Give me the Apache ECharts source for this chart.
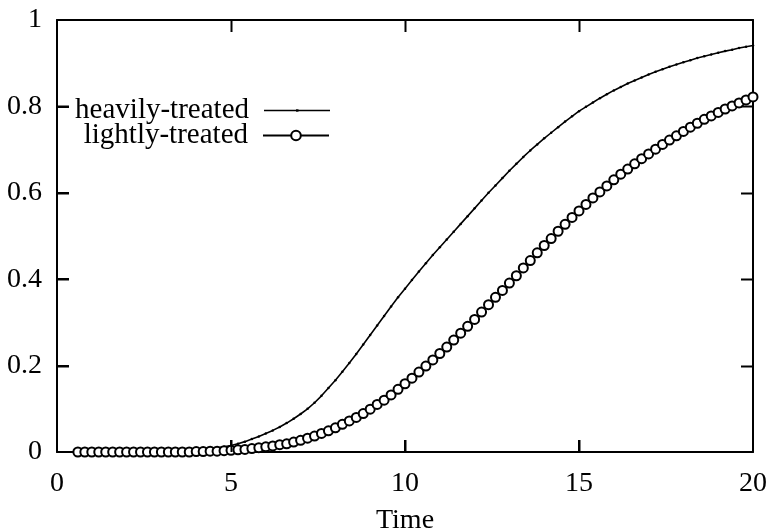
<!DOCTYPE html>
<html>
<head>
<meta charset="utf-8">
<style>html,body{margin:0;padding:0;background:#fff;}#chart{width:767px;height:532px;}</style>
<script src="https://cdn.jsdelivr.net/npm/echarts@6/dist/echarts.min.js"></script>
</head>
<body>
<div id="chart"></div>
<script>
var timeValues = [0.6,0.8,1.0,1.2,1.4,1.6,1.8,2.0,2.2,2.4,2.6,2.8,3.0,3.2,3.4,3.6,3.8,4.0,4.2,4.4,4.6,4.8,5.0,5.2,5.4,5.6,5.8,6.0,6.2,6.4,6.6,6.8,7.0,7.2,7.4,7.6,7.8,8.0,8.2,8.4,8.6,8.8,9.0,9.2,9.4,9.6,9.8,10.0,10.2,10.4,10.6,10.8,11.0,11.2,11.4,11.6,11.8,12.0,12.2,12.4,12.6,12.8,13.0,13.2,13.4,13.6,13.8,14.0,14.2,14.4,14.6,14.8,15.0,15.2,15.4,15.6,15.8,16.0,16.2,16.4,16.6,16.8,17.0,17.2,17.4,17.6,17.8,18.0,18.2,18.4,18.6,18.8,19.0,19.2,19.4,19.6,19.8,20.0];

var heavilyTreated = [0,0,0,0,0,0,0,0,0,0,0,0,
  0.001,0.001,0.002,0.002,0.003,0.004,0.005,0.007,0.009,0.012,0.015,0.019,0.024,0.030,0.036,0.043,0.050,0.058,0.067,0.077,
  0.088,0.100,0.114,0.130,0.148,0.166,0.186,0.206,0.227,0.249,0.271,0.293,0.315,0.337,0.358,0.378,0.398,0.418,0.437,0.456,
  0.474,0.492,0.510,0.528,0.546,0.564,0.582,0.600,0.617,0.634,0.651,0.667,0.683,0.698,0.712,0.726,0.739,0.752,0.765,0.777,
  0.789,0.799,0.809,0.819,0.828,0.837,0.845,0.853,0.860,0.867,0.874,0.880,0.886,0.892,0.897,0.902,0.907,0.912,0.916,0.920,
  0.924,0.928,0.931,0.935,0.938,0.941];

var lightlyTreated = [0,0,0,0,0,0,0,0,0,0,0,0,0,0,0,0,0,
  0.001,0.001,0.002,0.002,0.003,0.004,0.005,0.006,0.008,0.010,0.012,0.014,0.017,0.019,0.023,
  0.027,0.032,0.037,0.043,0.049,0.056,0.064,0.072,0.080,0.089,0.099,0.110,0.120,0.132,0.145,0.158,0.171,0.185,0.199,0.213,
  0.228,0.243,0.259,0.275,0.291,0.307,0.324,0.341,0.358,0.374,0.391,0.408,0.426,0.443,0.461,0.478,0.494,0.511,0.527,0.543,
  0.558,0.573,0.588,0.602,0.616,0.630,0.643,0.655,0.667,0.679,0.690,0.701,0.712,0.722,0.732,0.742,0.752,0.761,0.770,0.778,
  0.786,0.794,0.801,0.808,0.815,0.822];

var xTicks = [0, 5, 10, 15, 20];
var yTicks = [0, 0.2, 0.4, 0.6, 0.8, 1];
var seriesNames = ['heavily-treated', 'lightly-treated'];
var xAxisName = 'Time';

function pairs(ys) { return timeValues.map(function (t, i) { return [t, ys[i]]; }); }

var FONT = 'Liberation Serif';
var TICK_PX = 12;
var xMin = xTicks[0], xMax = xTicks[xTicks.length - 1];
var yMin = yTicks[0], yMax = yTicks[yTicks.length - 1];

// tick positions: [x, y, kind] kind 0 = x-axis tick, 1 = y-axis tick
var tickData = [];
xTicks.slice(1, -1).forEach(function (x) { tickData.push([x, yMin, 0]); });
yTicks.slice(1, -1).forEach(function (y) { tickData.push([xMin, y, 1]); });

function renderTick(params, api) {
  var kind = api.value(2);
  var v0 = api.value(0), v1 = api.value(1);
  var style = { stroke: '#000', lineWidth: 2, fill: null };
  if (kind === 0) {
    var b = api.coord([v0, yMin]), t = api.coord([v0, yMax]);
    var xb = Math.round(b[0]) + 0.5;
    return { type: 'group', children: [
      { type: 'line', shape: { x1: xb, y1: b[1], x2: xb, y2: b[1] - TICK_PX }, style: style, z2: 100 },
      { type: 'line', shape: { x1: xb, y1: t[1], x2: xb, y2: t[1] + TICK_PX }, style: style, z2: 100 }
    ]};
  }
  var l = api.coord([xMin, v1]), r = api.coord([xMax, v1]);
  var yl = Math.round(l[1]) + 0.5;
  return { type: 'group', children: [
    { type: 'line', shape: { x1: l[0], y1: yl, x2: l[0] + TICK_PX, y2: yl }, style: style, z2: 100 },
    { type: 'line', shape: { x1: r[0], y1: yl, x2: r[0] - TICK_PX, y2: yl }, style: style, z2: 100 }
  ]};
}

function lineAxis() { return { show: true, onZero: false, lineStyle: { color: '#000', width: 2 } }; }
function legendText() { return { fontFamily: FONT, fontSize: 29, color: '#000', padding: [0, 10, 0, 0] }; }

var chart = echarts.init(document.getElementById('chart'), null, { renderer: 'canvas' });
chart.setOption({
  animation: false,
  backgroundColor: '#fff',
  grid: { left: 57, right: 14, top: 20, bottom: 80, containLabel: false, outerBoundsMode: 'none' },
  legend: [
    {
      data: [{ name: seriesNames[0], icon: 'path://M0,10 L66,10 L66,11.5 L0,11.5 Z M32,9.5 L34.5,9.5 L34.5,12 L32,12 Z' }],
      right: 432, top: 91, align: 'right', orient: 'vertical',
      itemWidth: 66, itemHeight: 14, itemGap: 0, textStyle: legendText()
    },
    {
      data: [seriesNames[1]], right: 432, top: 116, align: 'right', orient: 'vertical',
      itemWidth: 66, itemHeight: 12, itemGap: 0, textStyle: legendText()
    }
  ],
  xAxis: [
    {
      type: 'value', min: xMin, max: xMax, interval: 5, position: 'bottom',
      name: xAxisName, nameLocation: 'middle', nameGap: 55,
      nameTextStyle: { fontFamily: FONT, fontSize: 28, color: '#000' },
      axisLine: lineAxis(), axisTick: { show: true, inside: true, length: TICK_PX, lineStyle: { color: '#000', width: 2 } },
      splitLine: { show: false },
      axisLabel: { fontFamily: FONT, fontSize: 28, color: '#000', margin: 18 }
    },
    {
      type: 'value', min: xMin, max: xMax, interval: 5, position: 'top',
      axisLine: lineAxis(), axisTick: { show: false }, splitLine: { show: false }, axisLabel: { show: false }
    }
  ],
  yAxis: [
    {
      type: 'value', min: yMin, max: yMax, interval: 0.2, position: 'left',
      axisLine: lineAxis(), axisTick: { show: true, inside: true, length: TICK_PX, lineStyle: { color: '#000', width: 2 } },
      splitLine: { show: false },
      axisLabel: { fontFamily: FONT, fontSize: 28, color: '#000', margin: 15 }
    },
    {
      type: 'value', min: yMin, max: yMax, interval: 0.2, position: 'right',
      axisLine: lineAxis(), axisTick: { show: false }, splitLine: { show: false }, axisLabel: { show: false }
    }
  ],
  series: [
    {
      name: seriesNames[0], type: 'line', xAxisIndex: 0, yAxisIndex: 0,
      data: pairs(heavilyTreated),
      symbol: 'circle', symbolSize: 2.5, showAllSymbol: true,
      lineStyle: { color: '#000', width: 1.6 },
      itemStyle: { color: '#000' }
    },
    {
      name: seriesNames[1], type: 'line', xAxisIndex: 0, yAxisIndex: 0,
      data: pairs(lightlyTreated),
      symbol: 'emptyCircle', symbolSize: 9, showAllSymbol: true,
      lineStyle: { color: '#000', width: 1.5 },
      itemStyle: { color: '#000', borderColor: '#000', borderWidth: 1.8 }
    },
    {
      name: 'ticks', type: 'custom', xAxisIndex: 0, yAxisIndex: 0,
      data: tickData, renderItem: renderTick, clip: false, silent: true,
      z: 50, zlevel: 1,
      encode: { x: 0, y: 1 }
    }
  ]
});
</script>
</body>
</html>
